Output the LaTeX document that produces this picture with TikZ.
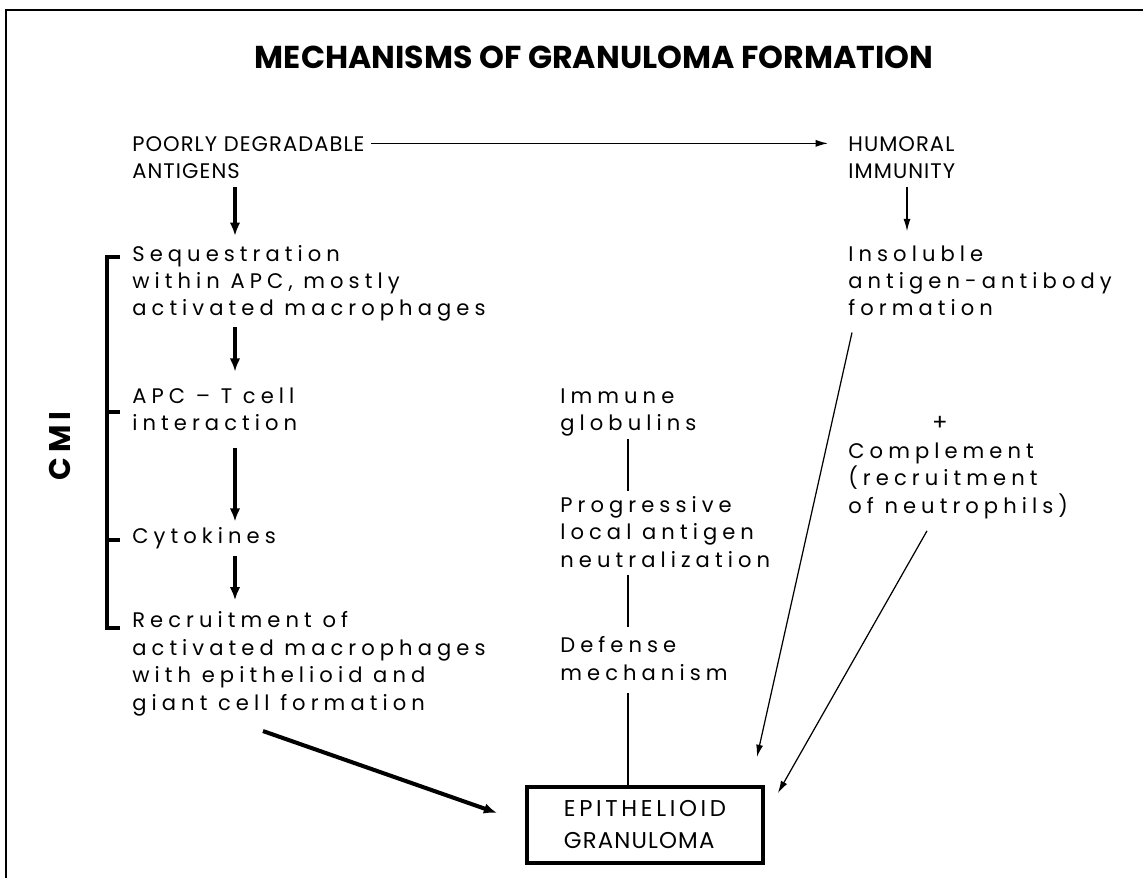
\documentclass[tikz,border=0pt]{standalone}
\usepackage{fontspec}
\setmainfont{Poppins}
\newfontfamily\spacedfont[LetterSpace=24]{Poppins}
\newfontfamily\capsfont[LetterSpace=5]{Poppins}
\newfontfamily\boxfont[LetterSpace=16]{Poppins}
\usetikzlibrary{arrows.meta, positioning, calc}

\begin{document}
\begin{tikzpicture}[x=0.02cm, y=-0.02cm]
    % Define styles
    \tikzset{
        label style/.style={
            inner sep=0pt,
            anchor=base west,
            align=left,
            font=\spacedfont\fontsize{12}{15.6}\selectfont
        },
        caps style/.style={
            label style,
            font=\capsfont\fontsize{12}{15.6}\selectfont
        },
        title style/.style={
            inner sep=0pt,
            anchor=base,
            font=\bfseries\fontsize{18}{21}\selectfont
        },
        result box/.style={
            rectangle,
            draw=black,
            line width=2.2pt,
            minimum width=4.72cm,
            minimum height=1.52cm,
            align=left,
            font=\boxfont\fontsize{13}{18.2}\selectfont
        },
        thick arrow/.style={-{Latex[length=7.5pt, width=6pt]}, line width=2.3pt},
        thin arrow/.style={-{Latex[length=7pt, width=4pt]}, line width=0.7pt},
        link/.style={line width=0.7pt},
        bracket/.style={line width=2.2pt}
    }

    \useasboundingbox (0,0) rectangle (1143,878);

    % Frame (top and left edge)
    \draw[line width=1.1pt] (6,878) -- (6,10) -- (1143,10);

    % Title
    \node[title style] (title) at (594,69) {MECHANISMS OF GRANULOMA FORMATION};

    % Columns for the vertical connectors
    \coordinate (colL) at (235,0);
    \coordinate (colM) at (628,0);
    \coordinate (colR) at (907,0);

    % Left column: CMI chain (base = last line)
    \node[caps style] (antigens) at (132,179) {POORLY DEGRADABLE\\ANTIGENS};
    \node[label style] (seq) at (132,316) {Sequestration\\within APC, mostly\\activated macrophages};
    \node[label style] (apc) at (132,431) {APC – T cell\\interaction};
    \node[label style] (cyto) at (132,543) {Cytokines};
    \node[label style] (recruit) at (132,710) {Recruitment of\\activated macrophages\\with epithelioid and\\giant cell formation};

    % CMI bracket
    \draw[bracket] (120,257) -- (107,257) -- (107,628) -- (120,628);
    \draw[bracket] (107,412) -- (120,412);
    \draw[bracket] (107,540) -- (120,540);
    \node[rotate=90, font=\boxfont\bfseries\fontsize{17}{20}\selectfont] (cmi) at (60,446) {CMI};

    % Middle column
    \node[label style] (immune) at (560,431) {Immune\\globulins};
    \node[label style] (prog) at (560,567) {Progressive\\local antigen\\neutralization};
    \node[label style] (defense) at (560,680) {Defense\\mechanism};

    % Right column: humoral branch
    \node[caps style] (humoral) at (848,179) {HUMORAL\\IMMUNITY};
    \node[label style] (insol) at (848,316) {Insoluble\\antigen-antibody\\formation};
    \node[font=\fontsize{13}{15.6}\selectfont, inner sep=0pt] (plus) at (940,423) {+};
    \node[label style] (compl) at (848,513) {Complement\\(recruitment\\of neutrophils)};

    % Result
    \node[result box] (granuloma) at (645,825) {EPITHELIOID\\{\capsfont GRANULOMA}};

    % Arrows of the CMI chain
    \draw[thin arrow] ([shift={(6,7)}]antigens.north east) -- ([shift={(-20,7)}]humoral.north west);
    \draw[thick arrow, shorten <=0.16cm, shorten >=0.18cm] (antigens.south -| colL) -- (seq.north -| colL);
    \draw[thick arrow, shorten <=0.1cm, shorten >=0.32cm] (seq.south -| colL) -- (apc.north -| colL);
    \draw[thick arrow, shorten <=0.32cm, shorten >=0.1cm] (apc.south -| colL) -- (cyto.north -| colL);
    \draw[thick arrow, shorten <=0.14cm, shorten >=0.22cm] (cyto.south -| colL) -- (recruit.north -| colL);
    \draw[thick arrow] ([shift={(131,15)}]recruit.south west) -- ([shift={(-28,-12)}]granuloma.west);

    % Links of the middle column
    \draw[link, shorten <=0.04cm, shorten >=0.1cm] (immune.south -| colM) -- (prog.north -| colM);
    \draw[link, shorten <=0.14cm, shorten >=0.18cm] (prog.south -| colM) -- (defense.north -| colM);
    \draw[link, shorten <=0.25cm] (defense.south -| colM) -- (granuloma.north -| colM);

    % Arrows of the humoral branch
    \draw[thin arrow, shorten <=0.16cm, shorten >=0.28cm] (humoral.south -| colR) -- (insol.north -| colR);
    \draw[thin arrow] ([shift={(4,16)}]insol.south west) -- ([shift={(-8,-28)}]granuloma.north east);
    \draw[thin arrow] ([shift={(79,12)}]compl.south west) -- ([shift={(13,8)}]granuloma.north east);

\end{tikzpicture}
\end{document}
